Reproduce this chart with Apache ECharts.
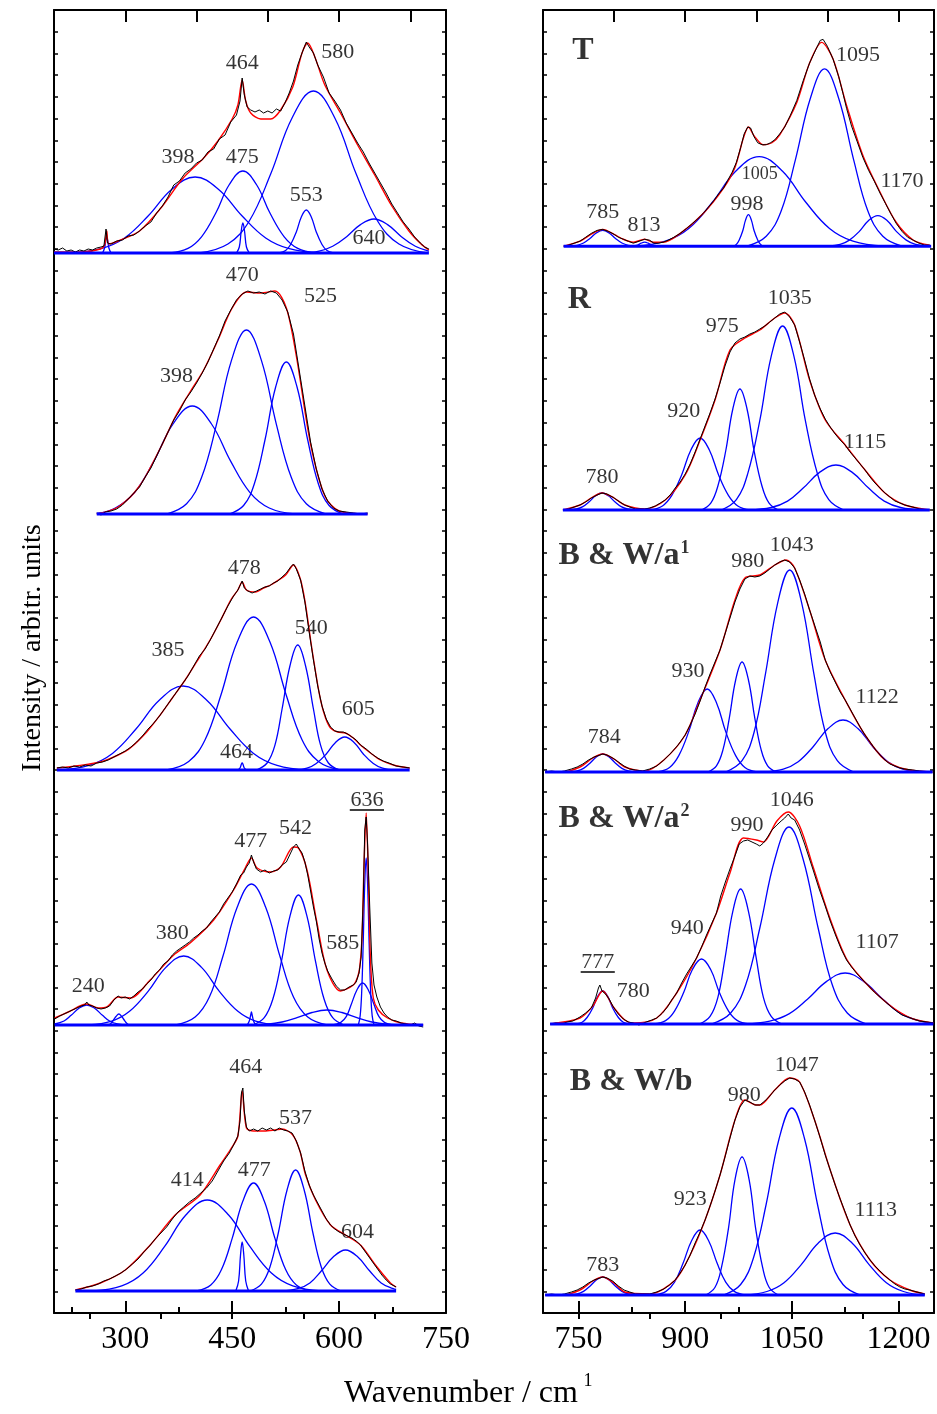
<!DOCTYPE html>
<html><head><meta charset="utf-8">
<script src="https://cdn.jsdelivr.net/npm/echarts@6/dist/echarts.min.js"></script>
<style>html,body{margin:0;padding:0;background:#fff}#c{width:937px;height:1414px}</style>
</head><body><div id="c"></div>
<script>
// ---------- axis ticks ----------
const leftRange = [200, 750];
const rightRange = [700, 1250];
const leftBottomMajor = [300, 450, 600, 750];
const leftBottomMinor = [225, 375, 525, 675];
const leftTopMajor = [300, 400, 500, 600, 700];
const leftTopMinor = [250, 350, 450, 550, 650];
const rightBottomMajor = [750, 900, 1050, 1200];
const rightBottomMinor = [825, 975, 1125];
const rightTopMajor = [800, 900, 1000, 1100, 1200];
const rightTopMinor = [750, 850, 950, 1050, 1150];

// ---------- left panel 1 ----------
const p1Range = [200, 726];
const p1Comps = [
 [[268,0],[271,5],[272.5,12],[274,16],[275.5,12],[277,5],[280,0]],
 [[222,0],[266,4.3],[299,15],[332,37],[365,63.5],[398,76],[431,63.5],[464,37],[497,15],[530,4.3],[574,0]],
 [[363,0],[388,4.6],[407,16.2],[427,40],[446,68.5],[465,82],[484,68.5],[503,40],[523,16.2],[542,4.6],[567,0]],
 [[456,0],[460,6],[462.7,22],[465,30],[467.3,22],[470,6],[474,0]],
 [[404,0],[444,9],[474,32],[504,79],[534,135],[564,162],[594,135],[624,79],[654,32],[684,9],[724,0]],
 [[516,0],[525,2.4],[532,8.5],[540,21],[547,36],[554,43],[561,36],[568,21],[576,8.5],[583,2.4],[592,0]],
 [[547,0],[572,1.9],[591,6.7],[611,16.6],[630,28.4],[649,34],[668,28.4],[687,16.6],[707,6.7],[726,1.9]]
];
const p1Fit = [[200,1],[240,1],[265,4],[271,8],[274,22],[277,9],[290,12],[320,22],[350,45],[380,74],[410,95],[430,112],[450,134],[458,148],[464,173],[469,152],[476,140],[490,134],[504,134],[518,143],[535,166],[548,200],[556,210],[566,196],[580,168],[602,140],[626,108],[650,78],[674,47],[698,22],[715,9],[726,3]];
const p1Exp = [[200,4],[206,3],[212,5],[218,2],[224,3],[230,1],[236,3],[242,2],[248,4],[254,3],[260,5],[266,6],[270,7],[273,24],[275,10],[280,9],[288,12],[296,13],[304,17],[312,18],[320,22],[328,27],[336,31],[344,40],[352,47],[360,56],[368,68],[376,72],[384,80],[392,84],[400,90],[408,93],[416,101],[424,104],[432,114],[440,118],[448,131],[456,138],[461,152],[464,175],[467,158],[471,146],[476,143],[482,141],[488,143],[494,140],[500,142],[506,140],[512,144],[518,142],[524,150],[530,160],[536,172],[542,188],[548,200],[554,211],[558,206],[564,200],[570,188],[578,176],[586,160],[594,152],[602,143],[610,130],[618,120],[626,110],[634,101],[642,90],[650,80],[658,70],[666,60],[674,49],[682,40],[690,31],[698,24],[706,16],[714,10],[720,6],[726,4]];
const p1Labels = [[464,190,'464'],[598,201,'580'],[374,96,'398'],[464,96,'475'],[554,58,'553'],[642,15,'640']];

// ---------- left panel 2 ----------
const p2Range = [260, 640];
const p2Comps = [
 [[260,0.5],[286,6],[313,21.4],[340,52.6],[367,90],[394,108],[421,90],[448,52.6],[475,21.4],[502,6],[538,0]],
 [[358,0],[386,10.3],[407,36.4],[428,89.6],[449,153.6],[470,184],[491,153.6],[512,89.6],[533,36.4],[554,10.3],[582,0]],
 [[446,0],[466,8.5],[481,30],[496,74],[511,127],[526,152],[541,127],[556,74],[571,30],[586,8.5],[606,0]]
];
const p2Fit = [[260,0],[290,7],[320,28],[350,67],[370,97],[390,121],[410,144],[430,174],[450,206],[470,222],[490,221],[510,223],[526,206],[540,158],[560,70],[580,18],[600,3],[640,0]];
const p2Exp = [[260,1],[266,-1],[272,2],[280,3],[288,5],[296,9],[304,15],[312,21],[320,27],[328,37],[336,46],[344,58],[352,70],[360,82],[368,94],[376,103],[384,114],[392,122],[400,131],[408,141],[416,152],[424,165],[432,178],[440,193],[448,204],[456,214],[464,220],[472,223],[480,221],[488,222],[496,220],[504,223],[512,221],[520,214],[528,202],[536,180],[544,144],[552,108],[560,72],[568,45],[576,25],[584,13],[592,6],[600,3],[610,2],[620,1],[630,0],[640,1]];
const p2Labels = [[464,239,'470'],[574,218,'525'],[372,138,'398']];

// ---------- left panel 3 ----------
const p3Range = [204, 699];
const p3Comps = [
 [[205,0],[249,4.7],[282,16.6],[315,41],[348,70],[381,84],[414,70],[447,41],[480,16.6],[513,4.7],[557,0]],
 [[358,0],[389,8.6],[412,30.3],[434,74.5],[457,128],[480,153],[503,128],[526,74.5],[548,30.3],[571,8.6],[602,0]],
 [[458,0],[461,2],[463,6],[464,7],[465,6],[467,2],[470,0]],
 [[484,0],[499,7],[510,24.8],[520,61],[531,104],[542,125],[553,104],[564,61],[574,24.8],[585,7],[600,0]],
 [[538,0],[555,1.8],[568,6.5],[582,16],[595,27.6],[608,33],[621,27.6],[634,16],[648,6.5],[661,1.8],[678,0]]
];
const p3Fit = [[204,2],[230,4],[265,8],[290,15],[307,22],[330,38],[349,55],[366,72],[384,90],[400,108],[419,130],[434,150],[448,170],[458,180],[464,188],[470,180],[483,178],[494,182],[504,185],[515,190],[525,195],[536,205],[546,190],[553,165],[560,130],[567,98],[574,70],[581,52],[588,42],[598,38],[609,37],[620,32],[630,25],[644,17],[658,10],[676,5],[699,2]];
const p3Exp = [[204,2],[212,3],[220,2],[228,4],[236,3],[244,5],[252,4],[260,7],[268,8],[276,10],[284,13],[292,16],[300,19],[308,23],[316,28],[324,34],[332,41],[340,47],[348,54],[356,62],[364,70],[372,78],[380,86],[388,94],[396,104],[404,114],[412,121],[420,131],[428,142],[436,153],[444,164],[452,174],[458,180],[462,186],[464,189],[467,182],[472,179],[478,177],[484,179],[490,181],[496,183],[502,184],[508,187],[514,189],[520,193],[526,197],[532,203],[536,206],[540,201],[546,190],[552,168],[558,138],[564,110],[570,84],[576,64],[582,51],[588,43],[594,39],[600,38],[606,38],[612,36],[618,33],[624,30],[630,25],[638,21],[646,16],[654,12],[662,9],[670,7],[680,4],[690,3],[699,2]];
const p3Labels = [[467,202,'478'],[360,120,'385'],[561,142,'540'],[627,61,'605'],[456,18,'464']];

// ---------- left panel 4 ----------
const p4Range = [201, 718];
const p4Comps = [
 [[201,1],[214,4],[224,9.7],[235,16.7],[246,20],[257,16.7],[268,9.7],[278,4],[289,1.1],[304,0]],
 [[277,0],[281,2.5],[284,5.5],[287,8.5],[291,11],[295,8.5],[298,5.5],[301,2.5],[305,0]],
 [[248,0],[281,3.9],[306,13.7],[332,33.6],[357,57.6],[382,69],[407,57.6],[432,33.6],[458,13.7],[483,3.9],[516,0]],
 [[371,0],[398,7.9],[418,27.9],[437,68.7],[457,117.7],[477,141],[497,117.7],[517,68.7],[536,27.9],[556,7.9],[583,0]],
 [[471,0],[474,4],[476,10],[477,13],[478,10],[480,4],[483,0]],
 [[479,0],[495,7.3],[507,25.7],[519,63.3],[531,108.6],[543,130],[555,108.6],[567,63.3],[579,25.7],[591,7.3],[607,0]],
 [[471,0],[499,0.8],[520,3],[541,7.3],[562,12.5],[583,15],[604,12.5],[625,7.3],[646,3],[667,0.8],[695,0]],
 [[591,0],[602,2.4],[610,8.3],[617,20.5],[625,35],[633,42],[641,35],[649,20.5],[656,8.3],[664,2.4],[675,0]],
 [[627,0],[629.6,9.4],[631.7,33],[633.8,81],[635.9,139],[638,167],[640.1,139],[642.2,81],[644.3,33],[646.4,9.4],[649,0]]
];
const p4Fit = [[201,7],[220,13],[246,21],[262,17],[274,18],[290,28],[307,27],[335,45],[368,70],[391,82],[424,105],[452,135],[469,158],[477,167],[485,157],[504,153],[518,158],[536,178],[543,177],[555,155],[569,102],[583,55],[602,34],[620,40],[626,48],[629,58],[632,85],[635,160],[638,212],[641,150],[644,66],[648,27],[655,15],[668,7],[687,2],[718,0]];
const p4Exp = [[201,6],[208,9],[214,11],[220,13],[226,15],[232,17],[238,19],[243,20],[246,23],[249,20],[254,19],[260,17],[266,16],[272,17],[278,19],[284,25],[290,29],[294,27],[300,28],[306,26],[312,29],[318,33],[324,36],[330,41],[336,45],[342,51],[348,55],[354,61],[360,64],[366,70],[372,74],[378,77],[384,80],[390,83],[396,87],[402,90],[408,94],[414,97],[420,103],[426,108],[432,113],[438,121],[444,127],[450,133],[456,141],[462,150],[466,152],[470,158],[474,162],[477,170],[480,163],[484,156],[490,153],[496,155],[502,152],[508,154],[514,155],[520,160],[526,163],[532,172],[536,178],[540,181],[544,176],[548,172],[552,163],[556,150],[560,134],[564,118],[568,104],[572,86],[576,72],[580,62],[584,54],[590,46],[596,39],[602,35],[608,35],[614,38],[620,40],[624,43],[628,52],[631,68],[634,128],[636,195],[638,208],[640,180],[643,118],[646,62],[649,40],[653,28],[658,18],[663,12],[668,8],[674,5],[680,4],[687,2],[694,1],[700,0],[706,2],[712,-1],[718,-2]];
const p4Labels = [[248,39,'240'],[366,92,'380'],[476,184,'477'],[539,197,'542'],[605,82,'585'],[639,225,'636','u']];

// ---------- left panel 5 ----------
const p5Range = [230, 680];
const p5Comps = [
 [[255,0],[295,5.1],[325,18],[355,44.3],[385,76],[415,91],[445,76],[475,44.3],[505,18],[535,5.1],[575,0]],
 [[400,0],[420,6],[435,21.4],[450,52.6],[465,90],[480,108],[495,90],[510,52.6],[525,21.4],[540,6],[560,0]],
 [[455,0],[459,10],[461.7,36],[464,49],[466.3,36],[469,10],[473,0]],
 [[475,0],[491,6.8],[503,24],[515,59],[527,101],[539,121],[551,101],[563,59],[575,24],[587,6.8],[603,0]],
 [[519,0],[542,2.3],[559,8.1],[575,20],[592,34.2],[609,41],[626,34.2],[643,20],[659,8.1],[676,2.3],[680,1.5]]
];
const p5Fit = [[230,1],[265,8],[300,21],[335,46],[370,76],[405,96],[433,126],[448,142],[458,155],[464,200],[470,163],[480,160],[495,160],[510,161],[520,162],[535,156],[545,140],[553,116],[567,91],[588,66],[609,56],[630,46],[651,26],[672,8],[680,4]];
const p5Exp = [[230,1],[238,2],[246,4],[254,5],[262,7],[270,10],[278,12],[286,15],[294,18],[302,22],[310,27],[318,32],[326,39],[334,45],[342,52],[350,58],[358,64],[366,72],[374,79],[382,84],[390,89],[398,93],[406,98],[414,103],[422,110],[430,120],[438,130],[446,138],[452,146],[458,155],[461,170],[463,198],[465,203],[467,180],[470,164],[474,160],[480,162],[486,160],[492,163],[498,161],[504,163],[510,160],[516,163],[522,161],[528,160],[534,158],[540,150],[546,138],[552,120],[558,106],[564,96],[570,88],[576,80],[582,72],[588,66],[594,62],[600,59],[606,57],[612,55],[618,53],[624,50],[630,46],[636,40],[642,34],[648,28],[654,22],[660,16],[666,11],[672,7],[680,4]];
const p5Labels = [[469,224,'464'],[539,173,'537'],[387,111,'414'],[481,121,'477'],[626,59,'604']];

// ---------- right panel T ----------
const tRange = [729, 1246];
const tComps = [
 [[736,0],[748,0.9],[757,3.2],[766,7.8],[775,13.4],[784,16],[793,13.4],[802,7.8],[811,3.2],[820,0.9],[832,0]],
 [[825,0],[833,1],[838,3],[843,4],[848,3],[853,1],[861,0]],
 [[828,0],[872,5.1],[905,18],[938,44.3],[971,76],[1004,91],[1037,76],[1070,44.3],[1103,18],[1136,5.1],[1180,0]],
 [[967,0],[972,1.8],[976,6.3],[981,15.6],[985,26.7],[989,32],[993,26.7],[997,15.6],[1002,6.3],[1006,1.8],[1011,0]],
 [[987,0],[1014,10],[1035,35.6],[1055,87.7],[1076,150],[1096,180],[1116,150],[1137,87.7],[1157,35.6],[1178,10],[1205,0]],
 [[1101,0],[1118,1.7],[1131,6.1],[1145,15],[1158,26],[1171,31],[1184,26],[1197,15],[1211,6.1],[1224,1.7],[1241,0]]
];
const tFit = [[729,0],[752,5],[770,13],[784,17],[800,12],[813,7],[827,4],[843,7],[855,4],[869,4],[893,13],[925,33],[954,59],[970,80],[982,110],[989,121],[997,112],[1010,103],[1022,105],[1033,113],[1057,146],[1075,186],[1092,207],[1108,190],[1127,143],[1150,92],[1174,55],[1197,24],[1221,6],[1244,1]];
const tExp = [[729,0],[736,1],[744,3],[752,5],[760,9],[768,13],[776,16],[784,17],[792,15],[800,12],[806,9],[813,7],[820,5],[827,3],[835,5],[843,7],[850,6],[856,3],[862,3],[869,4],[876,6],[884,9],[893,13],[902,18],[910,23],[918,28],[925,33],[932,39],[940,46],[947,53],[954,59],[960,67],[966,75],[972,85],[978,100],[983,114],[988,121],[992,120],[997,111],[1002,105],[1008,103],[1014,103],[1020,105],[1026,108],[1033,114],[1040,121],[1048,133],[1057,148],[1066,168],[1075,186],[1084,200],[1090,209],[1094,210],[1100,203],[1108,190],[1116,172],[1122,155],[1127,140],[1134,122],[1142,106],[1150,90],[1158,77],[1166,66],[1174,54],[1182,43],[1190,32],[1197,23],[1205,15],[1213,9],[1221,6],[1229,3],[1237,1],[1244,1]];
const tLabels = [[756,198,'{b|T}'],[1143,194,'1095'],[1005,73,'{m|1005}'],[987,43,'998'],[784,34,'785'],[842,21,'813'],[1205,66,'1170']];

// ---------- right panel R ----------
const rRange = [728, 1244];
const rComps = [
 [[735,0],[747,1],[756,3.4],[765,8.3],[774,14.2],[783,17],[792,14.2],[801,8.3],[810,3.4],[819,1],[831,0]],
 [[851,0],[868,4],[881,14.3],[895,35],[908,60],[921,72],[934,60],[947,35],[961,14.3],[974,4],[991,0]],
 [[923,0],[936,6.8],[946,24],[957,59],[967,101],[977,121],[987,101],[997,59],[1008,24],[1018,6.8],[1031,0]],
 [[951,0],[972,10.3],[988,36.4],[1005,89.6],[1021,153.6],[1037,184],[1053,153.6],[1069,89.6],[1086,36.4],[1102,10.3],[1123,0]],
 [[990,0],[1021,2.5],[1044,8.9],[1066,21.9],[1089,37.6],[1112,45],[1135,37.6],[1158,21.9],[1180,8.9],[1203,2.5],[1234,0]]
];
const rFit = [[728,0],[752,5],[770,13],[783,17],[800,12],[815,5],[843,1],[872,10],[900,35],[921,70],[942,110],[963,160],[984,172],[1005,180],[1026,192],[1040,197],[1054,185],[1075,130],[1097,90],[1125,65],[1153,40],[1181,17],[1209,5],[1244,0]];
const rExp = [[728,0],[736,1],[744,3],[752,5],[760,8],[768,12],[776,15],[783,17],[790,16],[800,12],[808,8],[815,5],[822,3],[830,1],[843,1],[850,2],[858,4],[865,7],[872,10],[880,16],[886,22],[893,28],[900,36],[907,46],[914,58],[921,71],[928,84],[935,97],[942,111],[949,127],[956,144],[963,158],[970,167],[977,171],[984,173],[991,176],[998,178],[1005,181],[1012,184],[1019,188],[1026,192],[1033,196],[1040,198],[1047,193],[1054,185],[1061,168],[1068,150],[1075,131],[1082,115],[1090,101],[1097,91],[1104,83],[1111,76],[1118,70],[1125,65],[1132,58],[1139,52],[1146,46],[1153,40],[1160,33],[1167,27],[1174,22],[1181,17],[1188,13],[1195,9],[1202,7],[1209,5],[1220,3],[1230,1],[1244,0]];
const rLabels = [[751,210,'{b|R}'],[1047,212,'1035'],[952,184,'975'],[898,99,'920'],[1153,68,'1115'],[783,33,'780']];

// ---------- right panel B & W/a1 ----------
const a1Range = [703, 1248];
const a1Comps = [
 [[736,0],[748,1],[757,3.6],[766,8.8],[775,15],[784,18],[793,15],[802,8.8],[811,3.6],[820,1],[832,0]],
 [[861,0],[878,4.6],[891,16.4],[905,40.4],[918,69.3],[931,83],[944,69.3],[957,40.4],[971,16.4],[984,4.6],[1001,0]],
 [[932,0],[944,6.2],[953,21.8],[962,53.6],[971,92],[980,110],[989,92],[998,53.6],[1007,21.8],[1016,6.2],[1028,0]],
 [[957,0],[980,11.3],[997,40],[1013,98.4],[1030,168.7],[1047,202],[1064,168.7],[1081,98.4],[1097,40],[1114,11.3],[1137,0]],
 [[1010,0],[1038,2.9],[1059,10.3],[1080,25.3],[1101,43.4],[1122,52],[1143,43.4],[1164,25.3],[1185,10.3],[1206,2.9],[1234,0]]
];
const a1Fit = [[703,0],[728,0],[752,5],[770,14],[784,18],[800,13],[815,5],[843,1],[870,12],[900,37],[921,72],[949,122],[970,172],[984,194],[1005,197],[1026,207],[1042,212],[1054,204],[1075,162],[1097,112],[1125,72],[1153,37],[1181,12],[1209,3],[1248,0]];
const a1Exp = [[703,0],[712,1],[722,0],[730,1],[740,3],[748,5],[756,8],[764,12],[772,15],[780,17],[784,18],[790,17],[798,14],[806,10],[814,6],[822,3],[830,2],[840,1],[850,3],[860,6],[870,12],[880,19],[890,27],[900,37],[907,47],[914,58],[921,71],[928,85],[935,98],[942,110],[949,122],[956,138],[963,154],[970,170],[977,183],[984,193],[991,196],[998,195],[1005,196],[1012,199],[1019,203],[1026,207],[1033,210],[1040,212],[1047,210],[1054,204],[1061,192],[1068,178],[1075,162],[1082,147],[1090,130],[1097,112],[1104,100],[1111,90],[1118,80],[1125,72],[1132,63],[1139,54],[1146,45],[1153,37],[1160,30],[1167,23],[1174,17],[1181,12],[1188,8],[1195,6],[1202,4],[1209,3],[1220,2],[1230,1],[1248,0]];
const a1Labels = [[814,216,'{b|B & W/a}{s|1}'],[988,211,'980'],[1050,227,'1043'],[904,101,'930'],[1170,75,'1122'],[786,35,'784']];

// ---------- right panel B & W/a2 ----------
const a2Range = [710, 1249];
const a2Comps = [
 [[746,0],[755,1.8],[762,6.5],[770,16],[777,27.6],[784,33],[791,27.6],[798,16],[806,6.5],[813,1.8],[822,0]],
 [[856,0],[873,3.6],[885,12.9],[898,31.7],[910,54.3],[923,65],[936,54.3],[948,31.7],[961,12.9],[973,3.6],[990,0]],
 [[920,0],[935,7.6],[946,26.7],[956,65.7],[967,112.7],[978,135],[989,112.7],[1000,65.7],[1010,26.7],[1021,7.6],[1036,0]],
 [[937,0],[964,11],[985,39],[1005,96],[1026,164.5],[1046,197],[1066,164.5],[1087,96],[1107,39],[1128,11],[1155,0]],
 [[984,0],[1019,2.9],[1046,10.1],[1072,24.8],[1099,42.6],[1125,51],[1151,42.6],[1178,24.8],[1204,10.1],[1231,2.9],[1249,1]]
];
const a2Fit = [[710,0],[752,6],[770,18],[784,33],[799,17],[815,4],[827,1],[860,6],[888,31],[916,66],[944,111],[963,151],[982,186],[1000,184],[1010,182],[1029,203],[1045,212],[1061,198],[1080,157],[1104,105],[1127,65],[1150,44],[1174,27],[1197,14],[1221,5],[1249,1]];
const a2Exp = [[710,0],[718,1],[726,0],[734,2],[742,3],[752,7],[760,11],[768,16],[774,26],[778,36],[780,39],[783,33],[788,30],[793,25],[799,17],[806,10],[813,5],[820,2],[827,1],[835,-1],[845,2],[853,4],[860,6],[868,11],[875,17],[881,24],[888,31],[895,41],[902,50],[909,58],[916,66],[923,77],[930,89],[937,100],[944,111],[950,128],[957,143],[963,155],[970,168],[976,180],[982,183],[988,184],[994,182],[1000,180],[1005,178],[1010,181],[1016,187],[1022,194],[1029,199],[1035,203],[1040,206],[1045,210],[1049,206],[1054,204],[1061,194],[1068,180],[1074,167],[1080,154],[1088,136],[1096,120],[1104,103],[1112,88],[1120,74],[1127,64],[1134,57],[1142,50],[1150,44],[1158,38],[1166,32],[1174,27],[1182,22],[1190,17],[1197,13],[1205,9],[1213,7],[1221,5],[1230,3],[1240,2],[1249,1]];
const a2Labels = [[814,205,'{b|B & W/a}{s|2}'],[987,199,'990'],[1050,224,'1046'],[903,96,'940'],[1170,82,'1107'],[777,62,'777','u'],[827,33,'780']];

// ---------- right panel B & W/b ----------
const bRange = [703, 1237];
const bComps = [
 [[736,0],[748,1],[757,3.6],[766,8.8],[775,15],[784,18],[793,15],[802,8.8],[811,3.6],[820,1],[832,0]],
 [[857,0],[873,3.6],[885,12.9],[897,31.7],[909,54.3],[921,65],[933,54.3],[945,31.7],[957,12.9],[969,3.6],[985,0]],
 [[929,0],[942,7.7],[951,27.3],[961,67.2],[970,115.2],[980,138],[990,115.2],[999,67.2],[1009,27.3],[1018,7.7],[1031,0]],
 [[954,0],[978,10.5],[996,37],[1014,91],[1032,156],[1050,187],[1068,156],[1086,91],[1104,37],[1122,10.5],[1146,0]],
 [[983,0],[1015,3.5],[1039,12.3],[1063,30.2],[1087,51.8],[1111,62],[1135,51.8],[1159,30.2],[1183,12.3],[1207,3.5],[1237,0]]
];
const bFit = [[703,0],[728,0],[752,5],[770,14],[784,18],[800,12],[815,3],[850,1],[886,15],[907,40],[928,75],[949,120],[970,175],[984,195],[1000,190],[1005,190],[1026,205],[1047,217],[1061,213],[1082,175],[1104,125],[1132,70],[1160,35],[1188,15],[1216,5],[1237,1]];
const bExp = [[703,0],[712,1],[722,0],[730,1],[740,3],[748,5],[756,8],[764,12],[772,15],[780,17],[784,18],[790,17],[798,14],[806,9],[814,5],[822,3],[830,1],[840,1],[850,1],[860,3],[870,6],[878,10],[886,15],[893,22],[900,30],[907,40],[914,52],[921,63],[928,75],[935,89],[942,104],[949,120],[956,138],[963,157],[970,175],[977,188],[984,195],[991,193],[998,190],[1005,190],[1012,194],[1019,199],[1026,205],[1033,210],[1040,214],[1047,217],[1054,216],[1061,213],[1068,203],[1075,190],[1082,175],[1090,157],[1097,140],[1104,125],[1111,110],[1118,96],[1125,83],[1132,70],[1139,59],[1146,50],[1153,42],[1160,35],[1167,29],[1174,24],[1181,19],[1188,15],[1195,11],[1202,8],[1209,6],[1216,5],[1226,3],[1237,1]];
const bLabels = [[824,213,'{b|B & W/b}'],[1057,230,'1047'],[983,200,'980'],[907,96,'923'],[1168,85,'1113'],[784,30,'783']];

// ---------- layout (pixels) ----------
const FONT = '"Liberation Serif","Times New Roman",serif';
const BLUE = '#0000ff', RED = '#ff0000';
const cols = [
  {left: 54, width: 392, range: leftRange, bMaj: leftBottomMajor, bMin: leftBottomMinor, tMaj: leftTopMajor, tMin: leftTopMinor},
  {left: 543, width: 391, range: rightRange, bMaj: rightBottomMajor, bMin: rightBottomMinor, tMaj: rightTopMajor, tMin: rightTopMinor}
];
const panels = [
  {col:0, base:253, range:p1Range, comps:p1Comps, fit:p1Fit, exp:p1Exp, labels:p1Labels},
  {col:0, base:514, range:p2Range, comps:p2Comps, fit:p2Fit, exp:p2Exp, labels:p2Labels},
  {col:0, base:770, range:p3Range, comps:p3Comps, fit:p3Fit, exp:p3Exp, labels:p3Labels},
  {col:0, base:1025, range:p4Range, comps:p4Comps, fit:p4Fit, exp:p4Exp, labels:p4Labels},
  {col:0, base:1291, range:p5Range, comps:p5Comps, fit:p5Fit, exp:p5Exp, labels:p5Labels},
  {col:1, base:246, range:tRange, comps:tComps, fit:tFit, exp:tExp, labels:tLabels},
  {col:1, base:510, range:rRange, comps:rComps, fit:rFit, exp:rExp, labels:rLabels},
  {col:1, base:772, range:a1Range, comps:a1Comps, fit:a1Fit, exp:a1Exp, labels:a1Labels},
  {col:1, base:1024, range:a2Range, comps:a2Comps, fit:a2Fit, exp:a2Exp, labels:a2Labels},
  {col:1, base:1295, range:bRange, comps:bComps, fit:bFit, exp:bExp, labels:bLabels}
];
const PH = 250, PAD = 10;

const grid = [], xAxis = [], yAxis = [], series = [];
const blackLine = {color: '#000', width: 2};
cols.forEach(c => {
  const gi = grid.length;
  grid.push({left: c.left, top: 10, width: c.width, height: 1303});
  const base = {type: 'value', gridIndex: gi, min: c.range[0], max: c.range[1], splitLine: {show: false}};
  xAxis.push(Object.assign({}, base, {position: 'bottom',
    axisLine: {show: true, onZero: false, lineStyle: blackLine},
    axisTick: {show: true, inside: true, length: 12, customValues: c.bMaj, lineStyle: blackLine},
    axisLabel: {show: true, customValues: c.bMaj, formatter: v => String(v), fontSize: 32, fontFamily: FONT, color: '#000', margin: 11}}));
  xAxis.push(Object.assign({}, base, {position: 'bottom',
    axisLine: {show: false},
    axisTick: {show: true, inside: true, length: 6, customValues: c.bMin, lineStyle: blackLine},
    axisLabel: {show: false}}));
  xAxis.push(Object.assign({}, base, {position: 'top',
    axisLine: {show: true, onZero: false, lineStyle: blackLine},
    axisTick: {show: true, inside: true, length: 12, customValues: c.tMaj, lineStyle: blackLine},
    axisLabel: {show: false}}));
  xAxis.push(Object.assign({}, base, {position: 'top',
    axisLine: {show: false},
    axisTick: {show: true, inside: true, length: 6, customValues: c.tMin, lineStyle: blackLine},
    axisLabel: {show: false}}));
  ['left', 'right'].forEach(pos => yAxis.push({type: 'value', gridIndex: gi, min: 0, max: 60, interval: 1, position: pos,
    axisLine: {show: true, onZero: false, lineStyle: blackLine},
    axisTick: {show: true, inside: true, length: 4, lineStyle: {color: '#000', width: 1.5}},
    axisLabel: {show: false}, splitLine: {show: false}}));
});

const rich = {
  b: {fontFamily: FONT, fontSize: 32, fontWeight: 'bold', color: '#000'},
  s: {fontFamily: FONT, fontSize: 18, fontWeight: 'bold', color: '#000', padding: [0, 0, 16, 1]},
  m: {fontFamily: FONT, fontSize: 18, color: '#000'}
};

panels.forEach(p => {
  const c = cols[p.col];
  const gi = grid.length;
  grid.push({left: c.left, width: c.width, top: p.base - PH, height: PH + PAD});
  const xi = xAxis.length;
  xAxis.push({type: 'value', gridIndex: gi, min: c.range[0], max: c.range[1], show: false});
  const yi = yAxis.length;
  yAxis.push({type: 'value', gridIndex: gi, min: -PAD, max: PH, show: false});
  const common = {type: 'line', xAxisIndex: xi, yAxisIndex: yi, symbol: 'none', showSymbol: false, silent: true};
  p.comps.forEach(d => series.push(Object.assign({}, common, {data: d, smooth: 0.4, lineStyle: {color: BLUE, width: 1.3}})));
  series.push(Object.assign({}, common, {data: p.fit, smooth: 0.3, lineStyle: {color: RED, width: 1.4}}));
  series.push(Object.assign({}, common, {data: p.exp, smooth: false, lineStyle: {color: '#000', width: 1}}));
  series.push(Object.assign({}, common, {data: [[p.range[0], 0], [p.range[1], 0]], lineStyle: {color: BLUE, width: 3}}));
  series.push({type: 'scatter', xAxisIndex: xi, yAxisIndex: yi, silent: true, symbolSize: 0,
    itemStyle: {color: 'rgba(0,0,0,0)'},
    data: p.labels.map(l => [l[0], l[1], l[2]]),
    label: {show: true, position: 'inside', formatter: q => q.data[2], fontSize: 22, fontFamily: FONT, color: '#000', rich: rich}});
  p.labels.filter(l => l[3] === 'u').forEach(l => series.push(Object.assign({}, common,
    {data: [[l[0] - 24, l[1] - 10], [l[0] + 24, l[1] - 10]], lineStyle: {color: '#000', width: 1.5}})));
});

const chart = echarts.init(document.getElementById('c'), null, {renderer: 'canvas', width: 937, height: 1414});
chart.setOption({
  animation: false,
  backgroundColor: '#fff',
  grid: grid, xAxis: xAxis, yAxis: yAxis, series: series,
  graphic: [
    {type: 'text', x: 33, y: 648, rotation: Math.PI / 2,
      style: {text: 'Intensity / arbitr. units', fontSize: 28, fontFamily: FONT, fill: '#000', align: 'center', verticalAlign: 'middle', textAlign: 'center', textVerticalAlign: 'middle'}},
    {type: 'text', x: 461, y: 1394,
      style: {text: 'Wavenumber / cm', fontSize: 32, fontFamily: FONT, fill: '#000', align: 'center', verticalAlign: 'middle', textAlign: 'center', textVerticalAlign: 'middle'}},
    {type: 'text', x: 588, y: 1381,
      style: {text: '1', fontSize: 18, fontFamily: FONT, fill: '#000', align: 'center', verticalAlign: 'middle', textAlign: 'center', textVerticalAlign: 'middle'}}
  ]
});
</script></body></html>
